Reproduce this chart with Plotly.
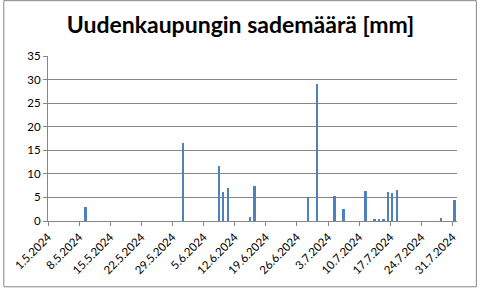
import pandas as pd
import plotly.graph_objects as go

# Data: rainy days (d.m.yyyy) and daily precipitation [mm]
rain_dates = ["9.5.2024", "31.5.2024", "8.6.2024", "9.6.2024", "10.6.2024", "15.6.2024",
              "16.6.2024", "28.6.2024", "30.6.2024", "4.7.2024", "6.7.2024", "11.7.2024",
              "13.7.2024", "14.7.2024", "15.7.2024", "16.7.2024", "17.7.2024", "18.7.2024",
              "28.7.2024", "31.7.2024"]
rain_mm = [3.0, 16.5, 11.7, 6.1, 7.1, 0.8,
           7.5, 5.0, 29.1, 5.4, 2.6, 6.4,
           0.5, 0.3, 0.3, 6.2, 6.0, 6.6,
           0.7, 4.5]
tick_dates = ["1.5.2024", "8.5.2024", "15.5.2024", "22.5.2024", "29.5.2024", "5.6.2024",
              "12.6.2024", "19.6.2024", "26.6.2024", "3.7.2024", "10.7.2024", "17.7.2024",
              "24.7.2024", "31.7.2024"]
y_ticks = [0, 5, 10, 15, 20, 25, 30, 35]

DAY_MS = 86400000
x = pd.to_datetime(rain_dates, format="%d.%m.%Y") + pd.Timedelta(hours=12)
tv = pd.to_datetime(tick_dates, format="%d.%m.%Y")

GRAY = "#868686"
FONT = "Lato"
fig = go.Figure(go.Bar(x=x, y=rain_mm, width=0.4 * DAY_MS,
                       marker=dict(color="#4F81BD", line=dict(width=0))))

W, H = 481, 289
L, R, T, B = 45, 24, 56, 67.5
pw, ph = W - L - R, H - T - B

def px_x(p):
    return (p - L) / pw

def px_y(p):
    return (H - B - p) / ph

fig.update_layout(
    width=W, height=H,
    margin=dict(l=L, r=R, t=T, b=B, pad=0),
    paper_bgcolor="white", plot_bgcolor="white",
    showlegend=False,
    bargap=0,
    title=dict(text="<b>Uudenkaupungin sademäärä [mm]</b>",
               x=0.5, xanchor="center", xref="container",
               y=1 - 25 / H, yanchor="middle", yref="container",
               font=dict(family=FONT, size=23, color="black")),
    xaxis=dict(type="date", range=["2024-05-01", "2024-08-01"],
               tickvals=tv, ticktext=tick_dates, tickangle=-45,
               ticks="outside", ticklen=4, tickcolor=GRAY,
               showline=True, linecolor=GRAY, linewidth=1,
               showgrid=False, zeroline=False,
               tickfont=dict(family=FONT, size=11.5, color="black")),
    yaxis=dict(range=[0, 35], tickvals=y_ticks,
               ticks="outside", ticklen=4, tickcolor=GRAY,
               showline=True, linecolor=GRAY, linewidth=1,
               showgrid=True, gridcolor=GRAY, gridwidth=1,
               zeroline=False,
               tickfont=dict(family=FONT, size=11.5, color="black")),
    shapes=[dict(type="rect", xref="paper", yref="paper",
                 x0=px_x(0.5), x1=px_x(476.5), y0=px_y(287.5), y1=px_y(0.5),
                 line=dict(color=GRAY, width=1), fillcolor="rgba(0,0,0,0)",
                 layer="above")],
)

fig.write_html("out.html")
